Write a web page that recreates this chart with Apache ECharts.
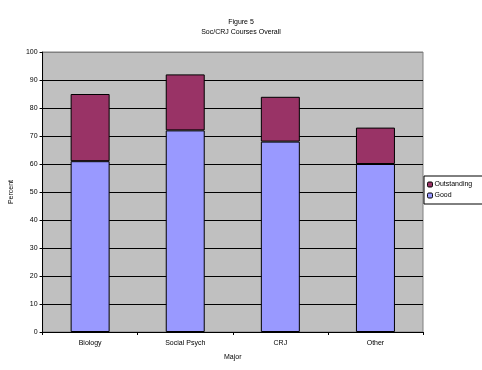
<!DOCTYPE html>
<html><head><meta charset="utf-8">
<script src="https://cdn.jsdelivr.net/npm/echarts@6/dist/echarts.min.js"></script>
<style>html,body{margin:0;padding:0;background:#fff}#c{width:482px;height:370px}</style>
</head><body><div id="c"></div>
<script>
const categories = ['Biology', 'Social Psych', 'CRJ', 'Other'];
const good = [61, 72, 68, 60];
const outstanding = [24, 20, 16, 13];
const yTicks = [0, 10, 20, 30, 40, 50, 60, 70, 80, 90, 100];

const chart = echarts.init(document.getElementById('c'), null, {renderer: 'canvas'});
const font = 'Arial, "Liberation Sans", sans-serif';
const splitColors = yTicks.map((v, i) => i === yTicks.length - 1 ? '#808080' : '#000000');
chart.setOption({
  animation: false,
  backgroundColor: '#ffffff',
  title: {
    text: 'Figure 5\nSoc/CRJ Courses Overall',
    left: 236, top: 12, textAlign: 'center',
    textStyle: {fontSize: 7, fontWeight: 'normal', color: '#000', fontFamily: font, lineHeight: 10}
  },
  legend: {
    orient: 'vertical', left: 424, top: 176,
    data: ['Outstanding', 'Good'],
    itemWidth: 5, itemHeight: 5, itemGap: 4,
    padding: [5, 12, 5, 3],
    borderColor: '#000', borderWidth: 1,
    textStyle: {fontSize: 7, color: '#000', fontFamily: font, padding: [0, 0, 0, -3]},
    itemStyle: {borderColor: '#000', borderWidth: 1}
  },
  grid: {left: 41, right: 59, top: 52, bottom: 38, show: true, backgroundColor: '#c0c0c0', borderWidth: 1, borderColor: '#808080'},
  xAxis: {
    type: 'category', data: categories,
    name: 'Major', nameLocation: 'middle', nameGap: 22,
    nameTextStyle: {fontSize: 7, color: '#000', fontFamily: font},
    axisLine: {lineStyle: {color: '#000', width: 1}},
    axisTick: {show: true, alignWithLabel: false, length: 3, lineStyle: {color: '#000'}},
    axisLabel: {fontSize: 7, color: '#000', fontFamily: font, margin: 8}
  },
  yAxis: {
    type: 'value', min: 0, max: 100, interval: 10,
    name: 'Percent', nameLocation: 'middle', nameGap: 25,
    nameTextStyle: {fontSize: 7, color: '#000', fontFamily: font},
    axisLine: {show: true, lineStyle: {color: '#000', width: 1}},
    axisTick: {show: true, length: 3, lineStyle: {color: '#000'}},
    axisLabel: {fontSize: 7, color: '#000', fontFamily: font, margin: 5,
      formatter: v => yTicks.includes(v) ? String(v) : ''},
    splitLine: {show: true, lineStyle: {color: splitColors, width: 1}}
  },
  series: [
    {name: 'Good', type: 'bar', stack: 's', data: good, barWidth: '41%',
     itemStyle: {color: '#9999ff', borderColor: '#000', borderWidth: 1}},
    {name: 'Outstanding', type: 'bar', stack: 's', data: outstanding, barWidth: '41%',
     itemStyle: {color: '#993366', borderColor: '#000', borderWidth: 1}}
  ]
});
</script></body></html>
